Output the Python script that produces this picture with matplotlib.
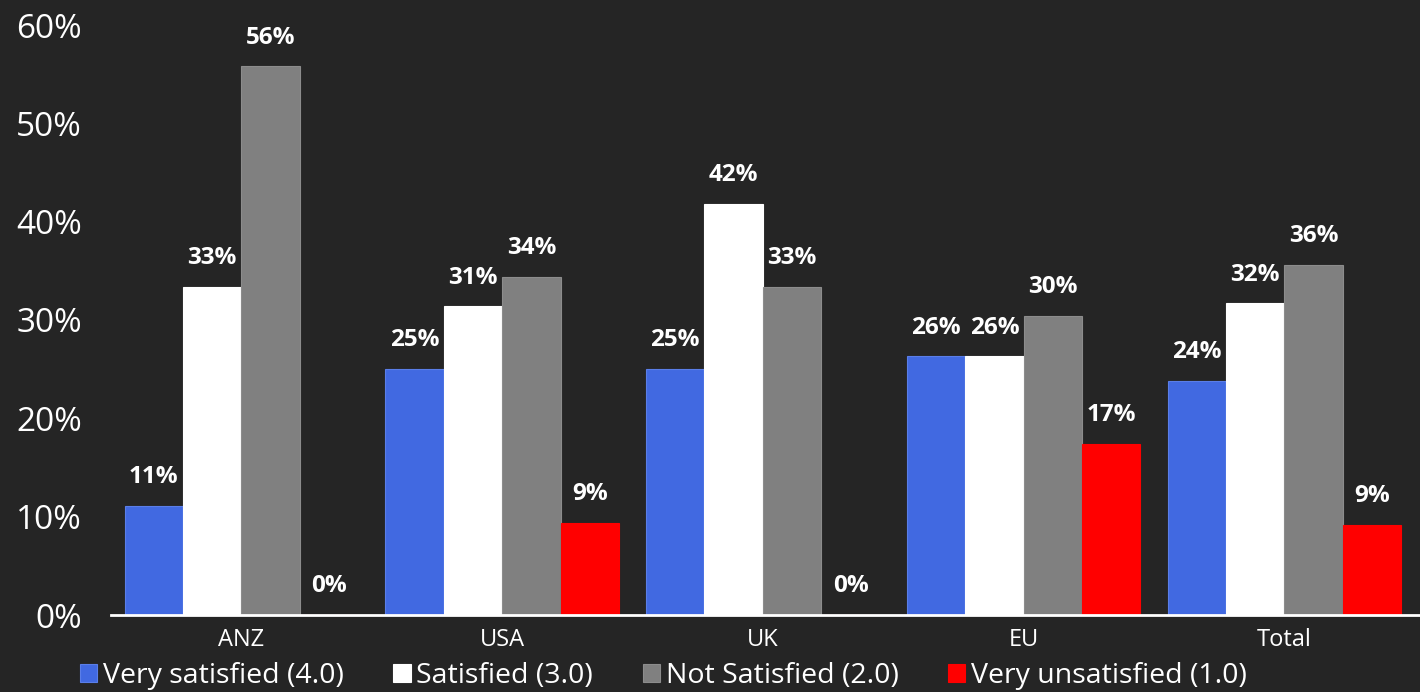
import numpy as np
import matplotlib.pyplot as plt

# data
regions = ['ANZ', 'USA', 'UK', 'EU', 'Total']
series_names = ['Very satisfied (4.0)', 'Satisfied (3.0)', 'Not Satisfied (2.0)', 'Very unsatisfied (1.0)']
very_satisfied = [11.1, 25.0, 25.0, 26.3, 23.8]
satisfied = [33.4, 31.4, 41.8, 26.3, 31.7]
not_satisfied = [55.8, 34.4, 33.4, 30.4, 35.6]
very_unsatisfied = [0.0, 9.4, 0.0, 17.4, 9.2]
colors = ['#4169E1', '#FFFFFF', '#808080', '#FF0000']
edge_colors = ['#5a7ee8', '#FFFFFF', '#8c8c8c', '#FF0000']

bg = '#252525'
plt.rcParams['font.family'] = ['Open Sans', 'DejaVu Sans']

fig = plt.figure(figsize=(14.2, 6.92), dpi=100, facecolor=bg)
ax = fig.add_axes([111 / 1420, 77 / 692, 1309 / 1420, (615 - 25) / 692])
ax.set_facecolor(bg)

x = np.arange(len(regions))
width = 0.224
all_series = [very_satisfied, satisfied, not_satisfied, very_unsatisfied]
for i, vals in enumerate(all_series):
    pos = x + (i - 1.5) * width
    vals = np.array(vals) / 100
    ax.bar(pos, vals, width, color=colors[i], edgecolor=edge_colors[i], linewidth=0.8,
           label=series_names[i])
    for px, v in zip(pos, vals):
        ax.annotate(f'{round(v * 100):.0f}%', (px, v), xytext=(0, 12), textcoords='offset points',
                    ha='center', va='bottom', color='white', fontsize=17.5, fontweight='bold')

ax.set_xlim(-0.5, 4.52)
ax.set_ylim(0, 0.6)
ax.set_yticks(np.arange(0, 0.61, 0.1))
ax.set_yticklabels([f'{int(t * 100)}%' for t in np.arange(0, 0.61, 0.1).round(2)])
ax.set_xticks(x)
ax.set_xticklabels(regions)
ax.tick_params(axis='y', length=0, pad=21, labelsize=24, labelcolor='white')
ax.tick_params(axis='x', length=0, pad=9, labelsize=17, labelcolor='white')
for s in ['left', 'right', 'top']:
    ax.spines[s].set_visible(False)
ax.spines['bottom'].set_color('white')
ax.spines['bottom'].set_linewidth(2)

leg = fig.legend(loc='center left', bbox_to_anchor=(80 / 1420, 1 - 676 / 692), ncol=4, frameon=False,
                 fontsize=20.5, handlelength=0.6, handleheight=0.6, handletextpad=0.2,
                 columnspacing=1.75, labelcolor='white', borderpad=0, borderaxespad=0)

plt.savefig('out.png', dpi=100, facecolor=bg)
